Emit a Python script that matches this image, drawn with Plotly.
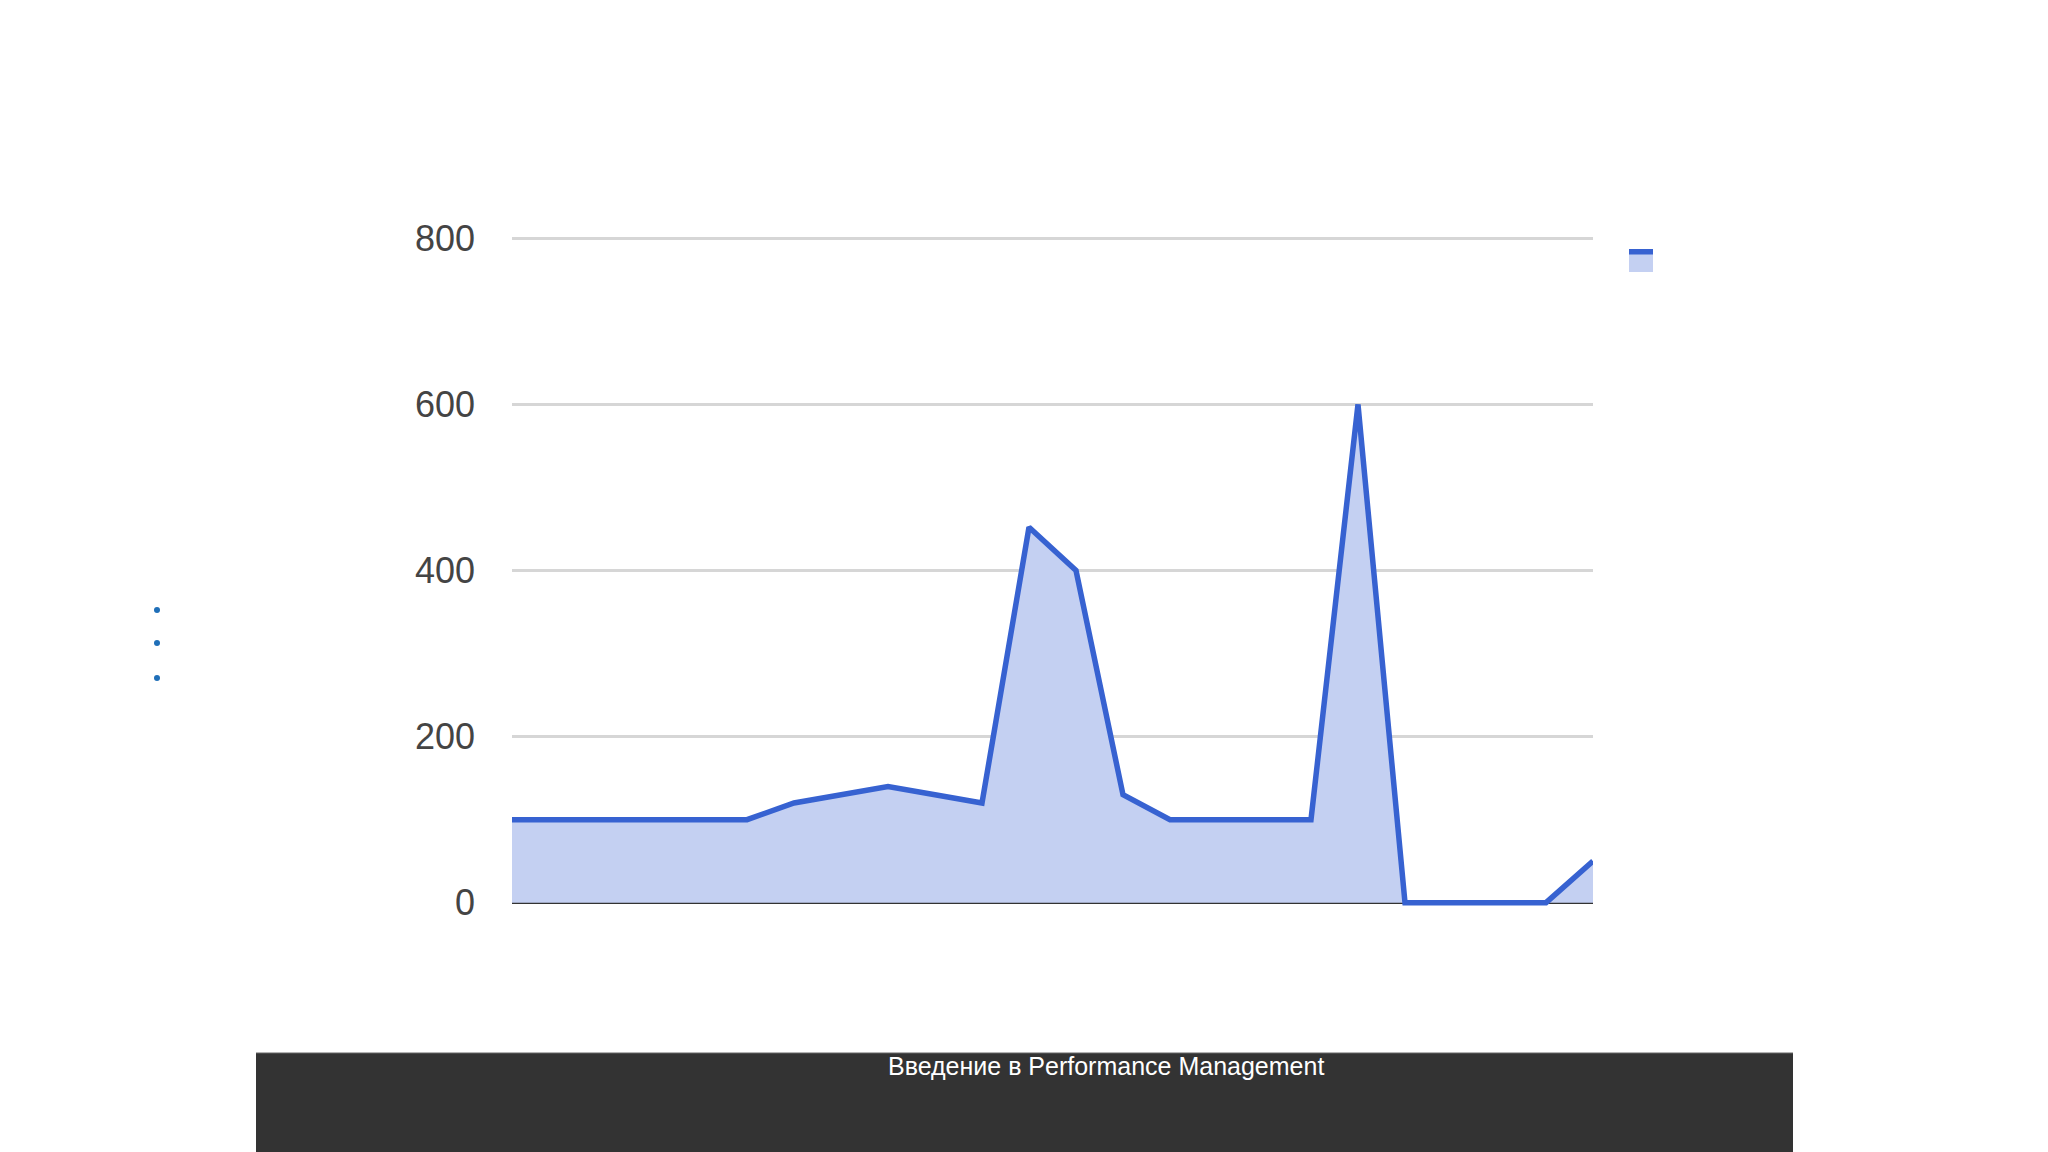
import plotly.graph_objects as go

# ---- data ----
points = list(range(24))
values = [100, 100, 100, 100, 100, 100, 120, 130, 140, 130, 120, 452,
          400, 130, 100, 100, 100, 100, 600, 0, 0, 0, 0, 50]
y_ticks = [0, 200, 400, 600, 800]
y_tick_labels = ["0", "200", "400", "600", "800"]
footer_text = "Введение в Performance Management"

W, H = 2048, 1152
ML, MR, MT, MB = 512, 455, 235, 246
PW, PH = W - ML - MR, H - MT - MB


def px(x):
    return (x - ML) / PW


def py(y):
    return (H - MB - y) / PH


LINE = "#3762d1"
FILL = "#c4d0f2"

fig = go.Figure()
fig.add_trace(go.Scatter(
    x=points, y=values, mode="lines",
    line=dict(color=LINE, width=5.5),
    fill="tozeroy", fillcolor=FILL,
    hoverinfo="skip", showlegend=False,
))

shapes = []
# legend icon (no text)
shapes.append(dict(type="rect", xref="paper", yref="paper",
                   x0=px(1629), x1=px(1653), y0=py(272), y1=py(253),
                   fillcolor=FILL, line=dict(width=0), layer="above"))
shapes.append(dict(type="rect", xref="paper", yref="paper",
                   x0=px(1629), x1=px(1653), y0=py(254.5), y1=py(249),
                   fillcolor=LINE, line=dict(width=0), layer="above"))
# bullets on the left
for by in (610, 643, 678):
    shapes.append(dict(type="circle", xref="paper", yref="paper",
                       x0=px(154), x1=px(160), y0=py(by + 3), y1=py(by - 3),
                       fillcolor="#1f6fb8", line=dict(width=0)))
# footer bar
shapes.append(dict(type="rect", xref="paper", yref="paper",
                   x0=px(256), x1=px(1793), y0=py(1152), y1=py(1053),
                   fillcolor="#333333", line=dict(width=0), layer="above"))
shapes.append(dict(type="line", xref="paper", yref="paper",
                   x0=px(256), x1=px(1793), y0=py(1053), y1=py(1053),
                   line=dict(color="#666666", width=1), layer="above"))

annotations = [dict(
    text=footer_text, xref="paper", yref="paper",
    x=px(1106), y=py(1066), xanchor="center", yanchor="middle",
    showarrow=False, font=dict(family="Liberation Sans, Arial", size=25, color="#ffffff"),
)]

fig.update_layout(
    width=W, height=H,
    margin=dict(l=ML, r=MR, t=MT, b=MB, pad=0),
    paper_bgcolor="white", plot_bgcolor="white",
    showlegend=False,
    shapes=shapes, annotations=annotations,
    xaxis=dict(range=[0, 23], showgrid=False, zeroline=False, showticklabels=False,
               showline=False, fixedrange=True),
    yaxis=dict(range=[-4, 804], tickvals=y_ticks, ticktext=y_tick_labels,
               showgrid=True, gridcolor="#d6d6d6", gridwidth=2.5,
               zeroline=True, zerolinecolor="#333333", zerolinewidth=3,
               showline=False, ticklabelstandoff=36,
               tickfont=dict(family="Liberation Sans, Arial", size=36, color="#444444"),
               fixedrange=True),
)

fig.write_html("out.html", config={"displayModeBar": False},
               post_script="document.body.style.margin='0';document.body.style.padding='0';")
